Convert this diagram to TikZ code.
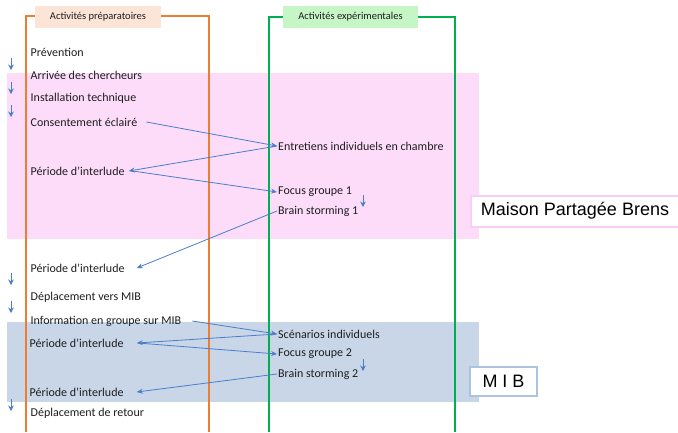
\documentclass[tikz,border=0pt]{standalone}
\usepackage{fontspec}
\setmainfont{Carlito}
\newfontfamily\arialf{Liberation Sans}
\usetikzlibrary{arrows.meta}
\definecolor{orangeL}{RGB}{237,125,49}
\definecolor{greenL}{RGB}{0,176,80}
\definecolor{peach}{RGB}{252,228,214}
\definecolor{mint}{RGB}{198,245,198}
\definecolor{pinkband}{RGB}{253,220,250}
\definecolor{blueband}{RGB}{201,214,232}
\definecolor{arrowc}{RGB}{74,126,200}
\definecolor{pinkborder}{RGB}{250,205,245}
\definecolor{blueborder}{RGB}{170,195,225}
\definecolor{txt}{RGB}{30,30,30}
\begin{document}
\begin{tikzpicture}[x=1pt,y=-1pt,
  lbl/.style={anchor=west,inner sep=1pt,text=txt,font=\fontsize{12}{14}\selectfont},
  head/.style={inner sep=0pt,text=txt,minimum height=22pt,font=\fontsize{10.5}{12}\selectfont},
  conn/.style={draw=arrowc,line width=0.8pt,-{Stealth[length=6pt,width=5pt]}},
  down/.style={draw=arrowc,line width=1pt,-{Stealth[length=5.5pt,width=5.5pt]}},
  place/.style={fill=white,line width=2pt,inner sep=0pt,text=black}]
\useasboundingbox (0,0) rectangle (678,432);
% bands
\fill[pinkband] (7,73) rectangle (479,239);
\fill[blueband] (7,322) rectangle (479,402);
% columns
\draw[orangeL,line width=1.5pt] (26,432) -- (26,16) -- (209,16) -- (209,432);
\node[head,fill=peach,minimum width=126pt] (hprep) at (98,17) {Activités préparatoires};
\draw[greenL,line width=1.5pt] (269,432) -- (269,17) -- (455,17) -- (455,432);
\node[head,fill=mint,minimum width=135pt] (hexp) at (350.5,17) {Activités expérimentales};
% place labels
\node[place,draw=pinkborder,minimum width=208pt,minimum height=31pt,font=\arialf\fontsize{18}{20}\selectfont] (mpb) at (575,211) {Maison Partagée Brens};
\node[place,draw=blueborder,minimum width=67pt,minimum height=29pt,font=\arialf\fontsize{18}{20}\selectfont] (mib) at (503.5,381.5) {M I B};
% left column
\node[lbl] (prev) at (29.5,52) {Prévention};
\node[lbl] (arr)  at (29.5,75) {Arrivée des chercheurs};
\node[lbl] (inst) at (29.5,98) {Installation technique};
\node[lbl] (cons) at (29.5,122) {Consentement éclairé};
\node[lbl] (per1) at (29.5,171) {Période d’interlude};
\node[lbl] (per2) at (29.5,268) {Période d’interlude};
\node[lbl] (depl) at (29.5,297) {Déplacement vers MIB};
\node[lbl] (info) at (29.5,321) {Information en groupe sur MIB};
\node[lbl] (per3) at (28.5,343) {Période d’interlude};
\node[lbl] (per4) at (28.5,392) {Période d’interlude};
\node[lbl] (ret)  at (29.5,413) {Déplacement de retour};
% right column
\node[lbl] (entr) at (277,146) {Entretiens individuels en chambre};
\node[lbl] (foc1) at (277,192) {Focus groupe 1};
\node[lbl] (bs1)  at (277,211) {Brain storming 1};
\node[lbl] (scen) at (277,334) {Scénarios individuels};
\node[lbl] (foc2) at (277,354) {Focus groupe 2};
\node[lbl] (bs2)  at (277,374) {Brain storming 2};
% connectors
\draw[conn] ([xshift=8pt]cons.east) -- (entr.west);
\draw[conn] (entr.west) -- ([xshift=3pt]per1.east);
\draw[conn] ([xshift=7pt]per1.east) -- (foc1.west);
\draw[conn] (bs1.west) -- ([xshift=11pt]per2.east);
\draw[conn] ([xshift=10pt]info.east) -- (scen.west);
\draw[conn] (scen.west) -- ([xshift=12pt]per3.east);
\draw[conn] ([xshift=13pt]per3.east) -- (foc2.west);
\draw[conn] (bs2.west) -- ([xshift=12pt]per4.east);
% sequence arrows
\draw[down] (11,58) -- (11,70);
\draw[down] (11,82) -- (11,94);
\draw[down] (11,105) -- (11,117);
\draw[down] (11,273) -- (11,285);
\draw[down] (11,301) -- (11,313);
\draw[down] (11,399) -- (11,411);
\draw[down] (363,195) -- (363,207);
\draw[down] (363,359) -- (363,371);
\end{tikzpicture}
\end{document}
